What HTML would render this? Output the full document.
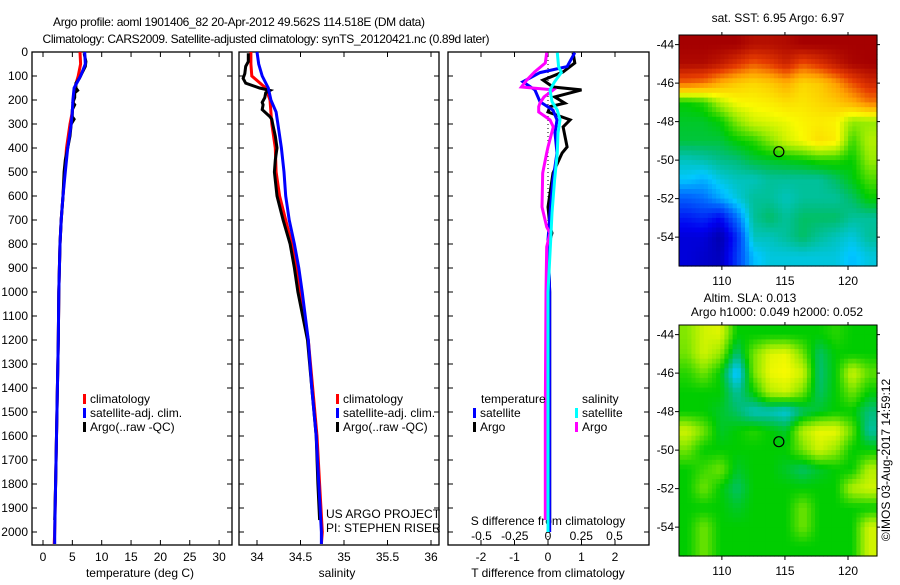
<!DOCTYPE html>
<html><head><meta charset="utf-8"><style>
body{margin:0;background:#fff;}
svg text{font-family:"Liberation Sans",sans-serif;font-size:12px;fill:#000;}
</style></head><body>
<svg id="c" width="900" height="580" xmlns="http://www.w3.org/2000/svg">
<text x="239" y="26" text-anchor="middle" font-size="13" textLength="372">Argo profile: aoml 1901406_82 20-Apr-2012 49.562S 114.518E (DM data)</text>
<text x="266" y="43" text-anchor="middle" font-size="13" textLength="447">Climatology: CARS2009. Satellite-adjusted climatology: synTS_20120421.nc (0.89d later)</text>
<g id="plots"></g>
</svg>
<script>
// ---- data ----
const depthTicks=[0,100,200,300,400,500,600,700,800,900,1000,1100,1200,1300,1400,1500,1600,1700,1800,1900,2000];
const tempTicks=[0,5,10,15,20,25,30];
const salTicks=[34,34.5,35,35.5,36];
const tdTicks=[-2,-1,0,1,2];
const sdTicks=[-0.5,-0.25,0,0.25,0.5];
const sdTickLabels=["-0.5","-0.25","0","0.25","0.5"];
const climDepth=[0,50,100,150,200,250,300,400,500,600,700,800,900,1000,1200,1400,1600,1800,2000,2050];
const tempClim=[6.3,6.4,6.0,5.4,5.2,5.0,4.6,4.0,3.7,3.4,3.1,2.9,2.8,2.7,2.6,2.45,2.3,2.15,2.0,1.9];
const tempSat=[7.1,7.2,6.4,5.3,5.1,5.0,4.8,4.2,3.8,3.4,3.1,2.9,2.8,2.7,2.6,2.45,2.3,2.15,2.0,2.0];
const salClim=[33.93,33.93,33.94,34.1,34.15,34.16,34.17,34.21,34.22,34.26,34.33,34.40,34.45,34.49,34.59,34.64,34.69,34.72,34.75,34.74];
const salSat=[34.0,34.02,34.06,34.13,34.16,34.22,34.24,34.28,34.31,34.33,34.37,34.43,34.48,34.52,34.59,34.63,34.68,34.71,34.74,34.74];
const argoDepth=[5,40,60,90,110,130,150,160,170,190,210,220,240,270,280,300,350,400,450,500,600,700,800,900,1000,1200,1400,1600,1800,1950];
const tempArgo=[7.0,7.3,7.2,6.6,6.2,5.6,5.6,5.9,5.4,5.4,5.1,5.4,5.0,5.0,5.3,4.8,4.6,4.2,3.8,3.6,3.4,3.1,2.9,2.8,2.7,2.6,2.45,2.3,2.15,2.0];
const salArgo=[33.9,33.9,33.87,33.86,33.84,33.87,34.03,34.15,34.1,34.09,34.06,34.07,34.06,34.15,34.17,34.18,34.21,34.23,34.21,34.2,34.23,34.3,34.38,34.43,34.47,34.58,34.63,34.68,34.70,34.72];
const dDepthSat=[3,61,86,124,158,207,242,283,338,421,533,671,783,1000,1500,2000];
const tdSat=[0.8,0.57,-0.24,-0.75,-0.39,-0.24,0.15,0.27,0.21,0.27,0.15,0.06,0.0,0.05,0.05,0.05];
const sdSat=[0.07,0.08,0.1,0.05,0.015,0.03,0.07,0.09,0.075,0.07,0.05,0.03,0.02,0.0,0.0,0.0];
const dDepthArgo=[3,46,83,117,146,158,187,213,228,250,283,312,396,421,504,646,729,754,812,1000,1500,1950];
const tdArgo=[0.75,0.8,0.45,-0.15,0.15,1.0,0.2,0.5,0.06,0.0,0.66,0.45,0.57,0.42,0.15,0.0,0.06,0.12,0.0,0.05,0.05,0.05];
const sdArgo=[-0.01,-0.02,-0.1,-0.16,-0.2,0.04,-0.03,-0.06,-0.07,-0.07,0.015,0.04,0.0,-0.01,-0.04,-0.045,-0.01,0.015,-0.01,-0.015,-0.02,-0.02];
const mapLonTicks=[110,115,120];
const mapLatTicks=[-44,-46,-48,-50,-52,-54];
const sstGrid=[
[1.0,1.0,1.0,1.0,0.97,0.97,0.98,1.0,1.0,1.0,1.0,1.0],
[0.98,0.98,0.95,0.9,0.85,0.88,0.93,0.86,0.9,0.95,0.99,1.0],
[0.84,0.82,0.76,0.72,0.7,0.72,0.76,0.7,0.72,0.78,0.86,0.92],
[0.5,0.52,0.6,0.65,0.66,0.67,0.69,0.68,0.7,0.72,0.76,0.82],
[0.48,0.48,0.5,0.57,0.62,0.63,0.64,0.66,0.67,0.66,0.58,0.58],
[0.47,0.47,0.47,0.5,0.52,0.57,0.62,0.65,0.69,0.67,0.53,0.6],
[0.4,0.41,0.43,0.44,0.47,0.48,0.49,0.5,0.52,0.52,0.5,0.58],
[0.36,0.34,0.38,0.4,0.4,0.42,0.42,0.42,0.42,0.45,0.49,0.54],
[0.26,0.28,0.33,0.38,0.42,0.42,0.4,0.42,0.42,0.42,0.45,0.5],
[0.18,0.2,0.16,0.28,0.42,0.45,0.42,0.45,0.45,0.45,0.42,0.42],
[0.12,0.12,0.06,0.2,0.4,0.4,0.42,0.45,0.42,0.4,0.38,0.42],
[0.12,0.1,0.08,0.22,0.35,0.38,0.38,0.38,0.38,0.38,0.35,0.38]];
const slaGrid=[
[0.57,0.62,0.63,0.5,0.5,0.5,0.5,0.5,0.5,0.52,0.5,0.5],
[0.56,0.62,0.58,0.44,0.56,0.63,0.64,0.56,0.45,0.5,0.5,0.5],
[0.52,0.56,0.5,0.34,0.56,0.64,0.65,0.62,0.44,0.5,0.62,0.55],
[0.5,0.5,0.5,0.42,0.5,0.6,0.62,0.56,0.45,0.5,0.56,0.5],
[0.5,0.5,0.48,0.45,0.4,0.4,0.38,0.45,0.48,0.5,0.5,0.44],
[0.62,0.56,0.48,0.5,0.52,0.5,0.48,0.6,0.64,0.64,0.55,0.42],
[0.56,0.5,0.5,0.5,0.5,0.5,0.5,0.56,0.62,0.58,0.5,0.5],
[0.5,0.53,0.56,0.48,0.5,0.5,0.48,0.45,0.48,0.5,0.5,0.6],
[0.5,0.56,0.5,0.45,0.5,0.5,0.5,0.5,0.5,0.5,0.6,0.62],
[0.5,0.5,0.5,0.48,0.5,0.5,0.5,0.56,0.5,0.5,0.5,0.5],
[0.5,0.56,0.5,0.5,0.5,0.5,0.5,0.56,0.5,0.5,0.5,0.62],
[0.5,0.56,0.5,0.5,0.5,0.5,0.5,0.5,0.5,0.5,0.5,0.62]];
const argoLon=114.518, argoLat=-49.562;

// ---- drawing ----
const NS="http://www.w3.org/2000/svg";
const root=document.getElementById('plots');
function mk(tag,attrs,parent){const e=document.createElementNS(NS,tag);for(const k in attrs)e.setAttribute(k,attrs[k]);(parent||root).appendChild(e);return e;}
const yD=d=>52+d*0.24;
const PT=52,PB=545;
const xT=v=>43+v*5.87, xS=v=>257+(v-34)*87, xTD=v=>548+v*33.5, xSD=v=>548+v*133;

function frame(x0,x1,name){
  const r=mk('rect',{x:x0,y:PT,width:x1-x0,height:PB-PT,fill:'none',stroke:'#000','stroke-width':1.3});
  
  
  depthTicks.forEach(d=>{const y=yD(d);
    mk('line',{x1:x0,x2:x0+5,y1:y,y2:y,stroke:'#000'});
    mk('line',{x1:x1-5,x2:x1,y1:y,y2:y,stroke:'#000'});});
}
function xticks(vals,fx,labels,ylab,name){
  vals.forEach((v,i)=>{const x=fx(v);
    mk('line',{x1:x,x2:x,y1:PB,y2:PB-5,stroke:'#000'});
    mk('line',{x1:x,x2:x,y1:PT,y2:PT+5,stroke:'#000'});
    const t=mk('text',{x:x,y:ylab,'text-anchor':'middle'});t.textContent=labels?labels[i]:String(v);
    
    });
}
function line(xs,ds,fx,color,name,w){
  const pts=xs.map((v,i)=>fx(v).toFixed(1)+','+yD(ds[i]).toFixed(1)).join(' ');
  const p=mk('polyline',{points:pts,fill:'none',stroke:color,'stroke-width':w||3,'stroke-linejoin':'miter'});
  
  
}
function txt(x,y,s,name,extra){const t=mk('text',Object.assign({x:x,y:y},extra||{}));t.textContent=s;
  
  return t;}
function legend(x,y,color,label,name){
  const r=mk('rect',{x:x,y:y-9,width:3,height:10,fill:color});
  
  
  txt(x+7,y,label,name);
}

// panel 1
frame(32,232,'temperature-plot-frame');
depthTicks.forEach(d=>txt(28,yD(d)+4,String(d),'depth-tick-label',{'text-anchor':'end'}));
xticks(tempTicks,xT,null,561,'temperature-tick-label');
txt(140,577,'temperature (deg C)','temperature-axis-title',{'text-anchor':'middle'});
line(tempClim,climDepth,xT,'#f00','temperature-climatology-line');
line(tempArgo,argoDepth,xT,'#000','temperature-argo-line');
line(tempSat,climDepth,xT,'#00f','temperature-satellite-line');
legend(83,403,'#f00','climatology','legend-climatology');
legend(83,417,'#00f','satellite-adj. clim.','legend-satellite');
legend(83,431,'#000','Argo(..raw -QC)','legend-argo');

// panel 2
frame(239,439,'salinity-plot-frame');
xticks(salTicks,xS,null,561,'salinity-tick-label');
txt(337,577,'salinity','salinity-axis-title',{'text-anchor':'middle'});
line(salClim,climDepth,xS,'#f00','salinity-climatology-line');
line(salArgo,argoDepth,xS,'#000','salinity-argo-line');
line(salSat,climDepth,xS,'#00f','salinity-satellite-line');
legend(336,403,'#f00','climatology','legend-climatology-sal');
legend(336,417,'#00f','satellite-adj. clim.','legend-satellite-sal');
legend(336,431,'#000','Argo(..raw -QC)','legend-argo-sal');
txt(326,518,'US ARGO PROJECT','project-credit');
txt(326,532,'PI: STEPHEN RISER','pi-credit');

// panel 3
frame(448,649,'difference-plot-frame');
xticks(tdTicks,xTD,null,561,'t-diff-tick-label');
sdTicks.forEach((v,i)=>txt(xSD(v),540,sdTickLabels[i],'s-diff-tick-label',{'text-anchor':'middle'}));
txt(548,525,'S difference from climatology','s-diff-axis-title',{'text-anchor':'middle'});
txt(548,577,'T difference from climatology','t-diff-axis-title',{'text-anchor':'middle'});
mk('line',{x1:548,x2:548,y1:PT,y2:PB,stroke:'#000','stroke-dasharray':'1,3'});
line(tdArgo,dDepthArgo,xTD,'#000','t-diff-argo-line');
line(tdSat,dDepthSat,xTD,'#00f','t-diff-satellite-line');
line(sdArgo,dDepthArgo,xSD,'#f0f','s-diff-argo-line');
line(sdSat,dDepthSat,xSD,'#0ff','s-diff-satellite-line');
txt(481,403,'temperature','legend-temperature-header');
txt(582,403,'salinity','legend-salinity-header');
legend(473,417,'#00f','satellite','legend-t-satellite');
legend(473,431,'#000','Argo','legend-t-argo');
legend(575,417,'#0ff','satellite','legend-s-satellite');
legend(575,431,'#f0f','Argo','legend-s-argo');

// maps
const stops=[[0,[0,0,130]],[0.15,[0,0,240]],[0.28,[0,110,255]],[0.36,[0,200,255]],[0.44,[0,190,120]],[0.5,[0,205,0]],[0.58,[150,235,0]],[0.65,[250,250,0]],[0.78,[255,160,0]],[0.88,[230,60,0]],[1,[165,0,0]]];
function cmap(v){
  v=Math.max(0,Math.min(1,v));
  for(let i=1;i<stops.length;i++){if(v<=stops[i][0]){const a=stops[i-1],b=stops[i],t=(v-a[0])/(b[0]-a[0]);
    return 'rgb('+a[1].map((c,k)=>Math.round(c+(b[1][k]-c)*t)).join(',')+')';}}
  return 'rgb(165,0,0)';
}
function sample(grid,fi,fj){
  const R=grid.length,C=grid[0].length;
  fi=Math.max(0,Math.min(R-1,fi));fj=Math.max(0,Math.min(C-1,fj));
  const i0=Math.floor(fi),j0=Math.floor(fj),i1=Math.min(R-1,i0+1),j1=Math.min(C-1,j0+1),ti=fi-i0,tj=fj-j0;
  return grid[i0][j0]*(1-ti)*(1-tj)+grid[i0][j1]*(1-ti)*tj+grid[i1][j0]*ti*(1-tj)+grid[i1][j1]*ti*tj;
}
function map(grid,top,name){
  const X0=679,X1=877,lon0=106.6,lon1=122.3, lat0=-43.5, lat1=-55.5;
  const H=231;
  const xL=l=>X0+(l-lon0)/(lon1-lon0)*(X1-X0);
  const yL=l=>top+(l-lat0)/(lat1-lat0)*H;
  const rows=grid.length, cols=grid[0].length, S=4;
  const cw=(X1-X0)/(cols*S), ch=H/(rows*S);
  for(let i=0;i<rows*S;i++)for(let j=0;j<cols*S;j++){
    const v=sample(grid,(i+0.5)/S-0.5,(j+0.5)/S-0.5);
    const r=mk('rect',{x:(X0+j*cw).toFixed(1),y:(top+i*ch).toFixed(1),width:(cw+0.6).toFixed(1),height:(ch+0.6).toFixed(1),fill:cmap(v)});
    
    
  }
  const f=mk('rect',{x:X0,y:top,width:X1-X0,height:H,fill:'none',stroke:'#000','stroke-width':1});
  
  
  mapLatTicks.forEach(l=>{const y=yL(l);
    mk('line',{x1:X0,x2:X0-4,y1:y,y2:y,stroke:'#000'});
    mk('line',{x1:X1,x2:X1+3,y1:y,y2:y,stroke:'#000'});
    txt(674,y+4,String(l),name+'-lat-label',{'text-anchor':'end'});});
  mapLonTicks.forEach(l=>{const x=xL(l);
    mk('line',{x1:x,x2:x,y1:top+H,y2:top+H+4,stroke:'#000'});
    mk('line',{x1:x,x2:x,y1:top,y2:top-3,stroke:'#000'});});
  const c=mk('circle',{cx:xL(argoLon),cy:yL(argoLat),r:5,fill:'none',stroke:'#000','stroke-width':1.2});
  
  
  return xL;
}
const xL1=map(sstGrid,35,'sst-map');
mapLonTicks.forEach(l=>txt(xL1(l),285,String(l),'sst-map-lon-label',{'text-anchor':'middle'}));
txt(778,22,'sat. SST: 6.95  Argo: 6.97','sst-map-title',{'text-anchor':'middle'});
txt(750,302,'Altim. SLA: 0.013','sla-map-title',{'text-anchor':'middle'});
txt(777,316,'Argo h1000: 0.049  h2000: 0.052','sla-map-subtitle',{'text-anchor':'middle'});
const xL2=map(slaGrid,325,'sla-map');
mapLonTicks.forEach(l=>txt(xL2(l),575,String(l),'sla-map-lon-label',{'text-anchor':'middle'}));
txt(0,0,'©IMOS 03-Aug-2017 14:59:12','timestamp-credit',{'text-anchor':'middle',transform:'translate(890,460) rotate(-90)'});
</script>
</body></html>
